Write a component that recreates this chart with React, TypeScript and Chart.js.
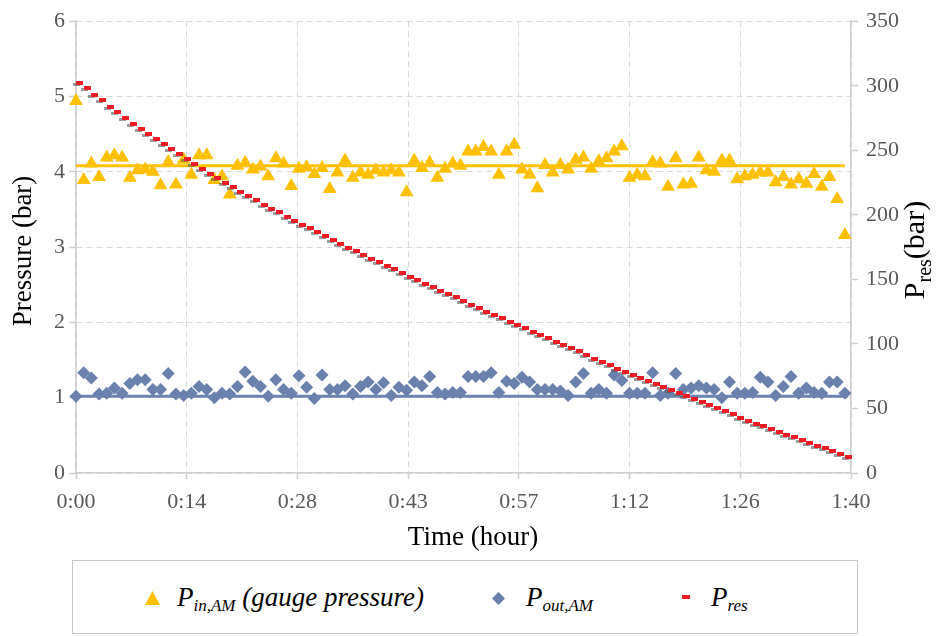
import React, { useEffect, useRef } from 'react';
import { Chart, registerables } from 'chart.js';

Chart.register(...registerables);

// ---- axis ticks (time axis in minutes, Excel date axis 0 .. 0.07 day) ----
const X_TICK_VALUES = [0, 14.4, 28.8, 43.2, 57.6, 72, 86.4, 100.8];
const X_TICK_LABELS = ['0:00', '0:14', '0:28', '0:43', '0:57', '1:12', '1:26', '1:40'];
const X_MAX = 100.8;
const LEFT_MAX = 6;
const LEFT_STEP = 1;
const RIGHT_MAX = 350;
const RIGHT_STEP = 50;

// one sample per minute, starting at 0:00
const SAMPLE_INTERVAL_MIN = 1;

// P_in,AM (gauge pressure), bar
const P_IN_AM = [
  4.94, 3.89, 4.11, 3.93, 4.19, 4.22, 4.19, 3.92, 4.02, 4.03,
  4.0, 3.82, 4.13, 3.83, 4.16, 3.96, 4.22, 4.22, 3.89, 3.94,
  3.7, 4.08, 4.12, 4.03, 4.07, 3.94, 4.18, 4.11, 3.81, 4.04,
  4.06, 3.97, 4.05, 3.77, 3.99, 4.15, 3.92, 3.99, 3.96, 4.02,
  3.99, 4.02, 3.99, 3.73, 4.15, 4.05, 4.12, 3.92, 4.04, 4.11,
  4.08, 4.27, 4.27, 4.33, 4.27, 3.96, 4.27, 4.36, 4.03, 3.96,
  3.78, 4.09, 3.99, 4.09, 4.03, 4.16, 4.19, 4.04, 4.14, 4.18,
  4.27, 4.34, 3.92, 3.96, 3.94, 4.13, 4.11, 3.8, 4.18, 3.83,
  3.84, 4.19, 4.02, 4.0, 4.15, 4.15, 3.9, 3.94, 3.96, 3.99,
  3.99, 3.86, 3.93, 3.83, 3.9, 3.84, 3.97, 3.8, 3.93, 3.64,
  3.16,
];

// P_out,AM, bar
const P_OUT_AM = [
  1.02, 1.33, 1.26, 1.05, 1.06, 1.13, 1.06, 1.19, 1.24, 1.24,
  1.11, 1.11, 1.32, 1.05, 1.03, 1.06, 1.15, 1.11, 1.0, 1.06,
  1.05, 1.15, 1.34, 1.22, 1.15, 1.02, 1.24, 1.11, 1.06, 1.29,
  1.14, 0.99, 1.3, 1.11, 1.11, 1.16, 1.05, 1.15, 1.21, 1.11,
  1.2, 1.03, 1.14, 1.1, 1.21, 1.16, 1.28, 1.07, 1.05, 1.07,
  1.07, 1.28, 1.28, 1.28, 1.33, 1.07, 1.22, 1.19, 1.27, 1.21,
  1.11, 1.11, 1.11, 1.09, 1.03, 1.21, 1.32, 1.06, 1.11, 1.06,
  1.3, 1.23, 1.06, 1.06, 1.06, 1.33, 1.03, 1.06, 1.32, 1.11,
  1.13, 1.16, 1.13, 1.11, 1.0, 1.21, 1.06, 1.06, 1.07, 1.27,
  1.21, 1.03, 1.15, 1.28, 1.06, 1.13, 1.07, 1.06, 1.21, 1.21,
  1.06,
];

// P_res, bar (right axis)
const P_RES = [
  302.2, 298.3, 293.2, 288.6, 283.9, 279.6, 275.2, 270.6, 266.7, 262.9,
  258.8, 254.9, 251.1, 247.2, 243.4, 239.7, 235.7, 232.0, 228.4, 224.9,
  221.4, 218.0, 214.6, 211.3, 208.0, 204.8, 202.0, 198.4, 195.3, 192.5,
  189.6, 186.8, 183.5, 180.6, 177.6, 174.5, 171.7, 168.6, 166.0, 163.4,
  160.6, 157.8, 154.7, 152.1, 149.3, 146.7, 143.9, 141.3, 138.8, 136.2,
  133.4, 130.5, 128.0, 125.1, 122.6, 120.0, 117.2, 114.6, 112.0, 109.2,
  106.9, 104.3, 101.8, 99.4, 96.9, 94.2, 91.2, 88.4, 86.1, 83.5,
  80.9, 78.4, 75.8, 73.5, 70.9, 68.9, 66.6, 64.2, 61.9, 59.4,
  57.1, 54.8, 52.4, 50.1, 47.8, 45.5, 42.9, 40.3, 38.3, 36.2,
  34.2, 31.9, 29.8, 27.8, 25.4, 23.4, 21.3, 19.3, 17.0, 14.9,
  12.1,
];

// nominal (reference) lines
const NOMINAL_SPAN = [0, 100];
const P_IN_NOMINAL = 4.08;
const P_OUT_NOMINAL = 1.02;

const YELLOW = '#FFC000';
const BLUE = '#6A81AE';
const BLUE_LINE = '#6C84B2';
const RED = '#EE1C24';
const GRID = '#d9d9d9';
const AXIS = '#cfcfcf';
const TICK_TXT = '#595959';
const FONT = '"Liberation Serif", "Times New Roman", serif';

function makeDash(): HTMLCanvasElement {
  const c = document.createElement('canvas');
  c.width = 24;
  c.height = 12;
  const g = c.getContext('2d')!;
  g.fillStyle = 'rgba(90,90,90,0.6)';
  g.fillRect(9, 6, 7, 3);
  g.fillStyle = RED;
  g.fillRect(12, 4, 7, 4);
  return c;
}

const crispPlugin = {
  id: 'crispDash',
  beforeDatasetDraw(chart: any, args: any) {
    if (args.index === 0) chart.ctx.imageSmoothingEnabled = false;
  },
  afterDatasetDraw(chart: any, args: any) {
    if (args.index === 0) chart.ctx.imageSmoothingEnabled = true;
  },
};

const titlePlugin = {
  id: 'customTitles',
  afterDraw(chart: any) {
    const ctx = chart.ctx as CanvasRenderingContext2D;
    ctx.save();
    ctx.fillStyle = '#000';
    ctx.textAlign = 'center';
    ctx.textBaseline = 'middle';
    ctx.font = `27px ${FONT}`;
    ctx.fillText('Time (hour)', 473, 538);
    ctx.save();
    ctx.translate(24, 251);
    ctx.rotate(-Math.PI / 2);
    ctx.fillText('Pressure (bar)', 0, 0);
    ctx.restore();

    // right title with subscript
    ctx.translate(924, 250);
    ctx.rotate(-Math.PI / 2);
    ctx.textAlign = 'left';
    ctx.textBaseline = 'alphabetic';
    const big = `30px ${FONT}`;
    const small = `20px ${FONT}`;
    ctx.font = big;
    const wP = ctx.measureText('P').width;
    const wBar = ctx.measureText('(bar)').width;
    ctx.font = small;
    const wSub = ctx.measureText('res').width;
    const x0 = -(wP + wSub + wBar) / 2;
    ctx.font = big;
    ctx.fillText('P', x0, 0);
    ctx.font = small;
    ctx.fillText('res', x0 + wP, 7);
    ctx.font = big;
    ctx.fillText('(bar)', x0 + wP + wSub, 0);
    ctx.restore();
  },
};

const toPts = (arr: number[]) => arr.map((y, i) => ({ x: i * SAMPLE_INTERVAL_MIN, y }));

export default function App() {
  const ref = useRef<HTMLCanvasElement | null>(null);

  useEffect(() => {
    if (!ref.current) return;
    const dash = makeDash();
    const tickFont = { family: FONT, size: 22 };
    const chart = new Chart(ref.current, {
      type: 'scatter',
      data: {
        datasets: [
          {
            label: 'P_res',
            data: toPts(P_RES),
            yAxisID: 'y1',
            pointStyle: dash as any,
            pointRadius: 6,
            backgroundColor: RED,
            borderColor: RED,
            borderWidth: 0,
            showLine: false,
            clip: false,
          },
          {
            label: 'P_in,AM',
            data: toPts(P_IN_AM),
            yAxisID: 'y',
            pointStyle: 'triangle',
            pointRadius: 8,
            backgroundColor: YELLOW,
            borderColor: YELLOW,
            borderWidth: 0,
            showLine: false,
            clip: false,
          },
          {
            label: 'P_out,AM',
            data: toPts(P_OUT_AM),
            yAxisID: 'y',
            pointStyle: 'rectRot',
            pointRadius: 6.5,
            backgroundColor: BLUE,
            borderColor: BLUE,
            borderWidth: 0,
            showLine: false,
            clip: false,
          },
          {
            label: 'in nominal',
            data: NOMINAL_SPAN.map((x) => ({ x, y: P_IN_NOMINAL })),
            yAxisID: 'y',
            showLine: true,
            borderColor: YELLOW,
            borderWidth: 3,
            pointRadius: 0,
          },
          {
            label: 'out nominal',
            data: NOMINAL_SPAN.map((x) => ({ x, y: P_OUT_NOMINAL })),
            yAxisID: 'y',
            showLine: true,
            borderColor: BLUE_LINE,
            borderWidth: 3,
            pointRadius: 0,
          },
        ],
      },
      options: {
        responsive: false,
        animation: false,
        devicePixelRatio: 1,
        layout: { padding: { top: 19, left: 0, right: 0, bottom: 0 } },
        plugins: { legend: { display: false }, tooltip: { enabled: false } },
        scales: {
          x: {
            type: 'linear',
            min: 0,
            max: X_MAX,
            afterBuildTicks: (s: any) => {
              s.ticks = X_TICK_VALUES.map((v) => ({ value: v }));
            },
            afterFit: (s: any) => {
              s.height = 82;
            },
            ticks: {
              autoSkip: false,
              maxRotation: 0,
              font: tickFont,
              color: TICK_TXT,
              padding: 10,
              callback: (_v: any, i: number) => X_TICK_LABELS[i],
            },
            grid: { color: GRID, lineWidth: 1, tickColor: AXIS, tickLength: 6, tickWidth: 1.5 },
            border: { color: AXIS, width: 1.5, dash: [6, 4] },
          },
          y: {
            type: 'linear',
            position: 'left',
            min: 0,
            max: LEFT_MAX,
            afterFit: (s: any) => {
              s.width = 76;
            },
            ticks: { stepSize: LEFT_STEP, font: tickFont, color: TICK_TXT, padding: 4 },
            grid: { color: GRID, lineWidth: 1, tickColor: AXIS, tickLength: 7, tickWidth: 1.5 },
            border: { color: AXIS, width: 1.5, dash: [6, 4] },
          },
          y1: {
            type: 'linear',
            position: 'right',
            min: 0,
            max: RIGHT_MAX,
            afterFit: (s: any) => {
              s.width = 91;
            },
            ticks: { stepSize: RIGHT_STEP, font: tickFont, color: TICK_TXT, padding: 8 },
            grid: { drawOnChartArea: false, tickColor: AXIS, tickLength: 7, tickWidth: 1.5 },
            border: { color: AXIS, width: 1.5 },
          },
        },
      },
      plugins: [crispPlugin, titlePlugin],
    });
    return () => chart.destroy();
  }, []);

  const legendText: React.CSSProperties = {
    position: 'absolute',
    top: 584,
    fontFamily: FONT,
    fontStyle: 'italic',
    fontSize: 27,
    lineHeight: '27px',
    color: '#000',
    whiteSpace: 'nowrap',
  };
  const sub: React.CSSProperties = { fontSize: 17, verticalAlign: -5, lineHeight: '17px' };

  return (
    <div style={{ position: 'fixed', left: 0, top: 0, width: 942, height: 636, background: '#fff' }}>
      <canvas ref={ref} width={942} height={555} style={{ display: 'block', width: 942, height: 555 }} />
      <div
        style={{
          position: 'absolute',
          left: 72,
          top: 560,
          width: 786,
          height: 74,
          border: '1px solid #c8c8c8',
          boxSizing: 'border-box',
        }}
      />
      <svg style={{ position: 'absolute', left: 144.5, top: 591 }} width={15} height={14}>
        <polygon points="7.5,0 15,14 0,14" fill={YELLOW} />
      </svg>
      <span style={{ ...legendText, left: 177 }}>
        P<span style={sub}>in,AM</span> (gauge pressure)
      </span>
      <svg style={{ position: 'absolute', left: 492, top: 592 }} width={13} height={13}>
        <polygon points="6.5,0 13,6.5 6.5,13 0,6.5" fill={BLUE} />
      </svg>
      <span style={{ ...legendText, left: 526 }}>
        P<span style={sub}>out,AM</span>
      </span>
      <div style={{ position: 'absolute', left: 682, top: 595, width: 8, height: 4, background: RED }} />
      <span style={{ ...legendText, left: 711 }}>
        P<span style={sub}>res</span>
      </span>
    </div>
  );
}
